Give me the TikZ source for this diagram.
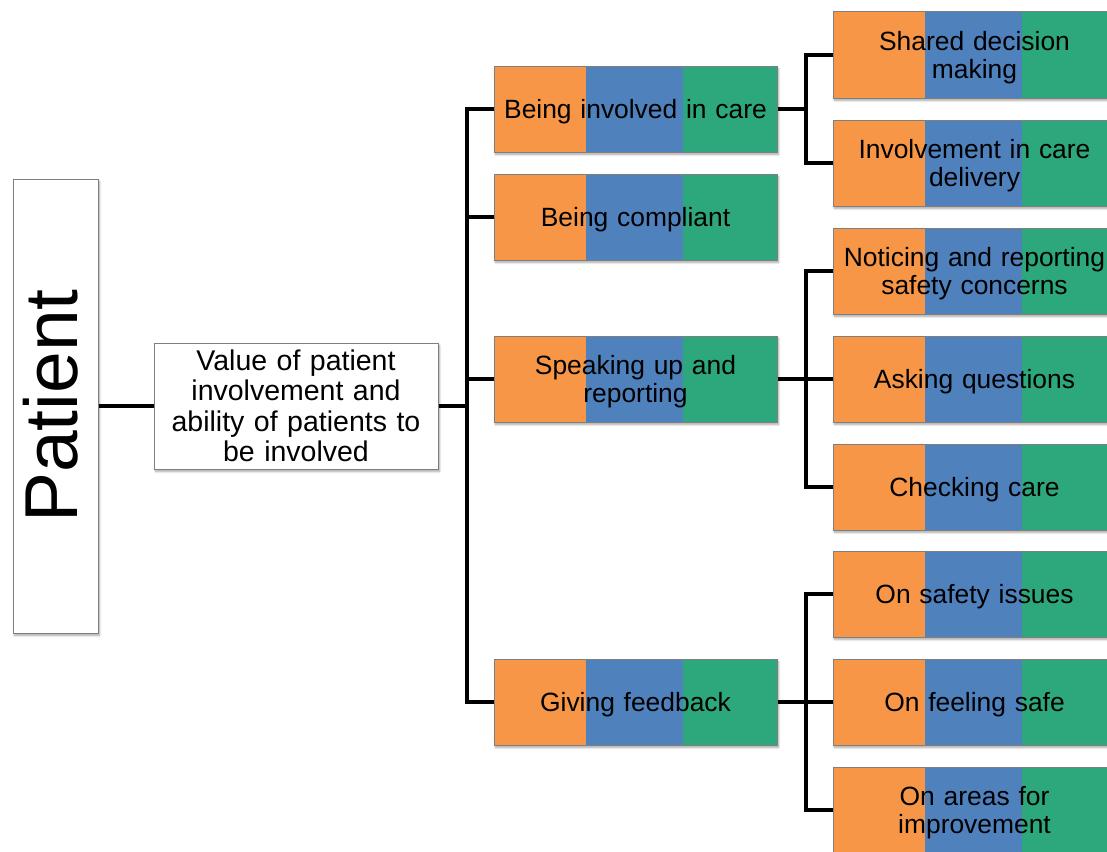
\documentclass[tikz,border=0pt]{standalone}
\usepackage{fontspec}
\setmainfont{Liberation Sans}
\usetikzlibrary{shadows.blur,calc}
\definecolor{bandorange}{HTML}{F79646}
\definecolor{bandblue}{HTML}{4F81BD}
\definecolor{bandgreen}{HTML}{2DA77C}
\definecolor{boxgray}{HTML}{7F7F7F}
\begin{document}
\begin{tikzpicture}[x=1pt,y=-1pt,
  box/.style={draw=boxgray, line width=1pt, fill=white, align=center, inner sep=2pt,
    blur shadow={shadow xshift=1.5pt, shadow yshift=-2.5pt, shadow opacity=35, shadow blur steps=6}},
  tricolor/.style={box, minimum width=283pt, minimum height=86pt, text width=279pt,
    text height=25pt, font=\fontsize{26.4}{28}\selectfont,
    path picture={
      \fill[bandorange] (path picture bounding box.south west) rectangle ($(path picture bounding box.north west)+(92pt,0)$);
      \fill[bandblue] ($(path picture bounding box.south west)+(92pt,0)$) rectangle ($(path picture bounding box.north west)+(189pt,0)$);
      \fill[bandgreen] ($(path picture bounding box.south west)+(189pt,0)$) rectangle (path picture bounding box.north east);
    }},
  link/.style={line width=4pt, black}
]
\useasboundingbox (0,0) rectangle (1107,851);

% root and central concept
\node[box, minimum width=85pt, minimum height=454pt, font=\fontsize{75}{80}\selectfont] (patient) at (55.5,406) {\hspace*{-10pt}\rotatebox{90}{Patient}};
\node[box, minimum width=284pt, minimum height=126pt, text width=280pt, font=\fontsize{28.5}{30.5}\selectfont] (value) at (296,406)
  {Value of patient\\involvement and\\ability of patients to\\be involved};

% second level
\node[tricolor] (care) at (635.5,109) {Being involved in care};
\node[tricolor] (compliant) at (635.5,217) {Being compliant};
\node[tricolor] (speak) at (635.5,379) {Speaking up and\\reporting};
\node[tricolor] (feedback) at (635.5,702) {Giving feedback};

% third level
\node[tricolor] (shared) at (974.5,55) {Shared decision\\making};
\node[tricolor] (delivery) at (974.5,163) {Involvement in care\\delivery};
\node[tricolor] (noticing) at (974.5,271) {Noticing and reporting\\safety concerns};
\node[tricolor] (asking) at (974.5,379) {Asking questions};
\node[tricolor] (checking) at (974.5,487) {Checking care};
\node[tricolor] (issues) at (974.5,594) {On safety issues};
\node[tricolor] (feeling) at (974.5,702) {On feeling safe};
\node[tricolor] (areas) at (974.5,810) {On areas for\\improvement};

% junction points of the bracket connectors
\coordinate (jv) at ($(value.east)+(28,0)$);
\coordinate (jc) at ($(care.east)+(28,0)$);
\coordinate (js) at ($(speak.east)+(28,0)$);
\coordinate (jf) at ($(feedback.east)+(28,0)$);

\draw[link] (patient.east) -- (value.west);
\draw[link] (value.east) -- (jv);
\foreach \n in {care,compliant,speak,feedback} \draw[link] (jv) |- (\n.west);

\draw[link] (care.east) -- (jc);
\foreach \n in {shared,delivery} \draw[link] (jc) |- (\n.west);

\draw[link] (speak.east) -- (js);
\foreach \n in {noticing,asking,checking} \draw[link] (js) |- (\n.west);

\draw[link] (feedback.east) -- (jf);
\foreach \n in {issues,feeling,areas} \draw[link] (jf) |- (\n.west);
\end{tikzpicture}
\end{document}
